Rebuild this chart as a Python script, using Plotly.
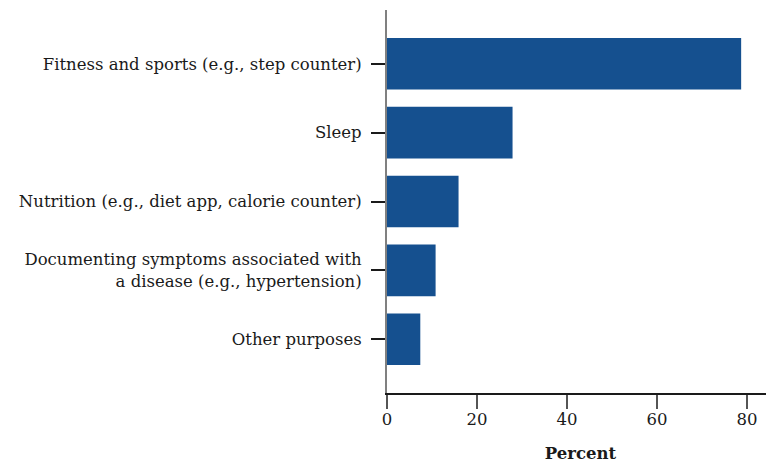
import plotly.graph_objects as go

categories = [
    "Fitness and sports (e.g., step counter)",
    "Sleep",
    "Nutrition (e.g., diet app, calorie counter)",
    "Documenting symptoms associated with<br>a disease (e.g., hypertension)",
    "Other purposes",
]
values = [78.7, 27.9, 15.9, 10.8, 7.4]
x_ticks = [0, 20, 40, 60, 80]

FONT = "DejaVu Serif"

fig = go.Figure(go.Bar(
    x=values, y=categories, orientation="h",
    marker=dict(color="#15508f", line=dict(width=0)),
    width=0.75,
))

# page body has an 8px default margin, so the figure is sized/offset to compensate
fig.update_layout(
    width=766, height=459,
    margin=dict(l=379, r=0, t=2, b=74),
    plot_bgcolor="white", paper_bgcolor="white",
    font=dict(family=FONT, size=16.5, color="#1a1a1a"),
    showlegend=False,
    xaxis=dict(
        range=[0, 86], tickvals=x_ticks, showgrid=False, zeroline=False,
        automargin=False,
        showline=True, linecolor="#1a1a1a", linewidth=1.5,
        ticks="outside", ticklen=14, tickcolor="#555", tickwidth=1.5,
        ticklabelstandoff=-4,
        tickfont=dict(family=FONT, size=16.5),
        title=dict(text="<b>Percent</b>", font=dict(family=FONT, size=16.5), standoff=20),
    ),
    yaxis=dict(
        categoryorder="array", categoryarray=categories,
        range=[4.78, -0.78], showgrid=False, zeroline=False,
        automargin=False,
        showline=True, linecolor="#808080", linewidth=2,
        ticks="outside", ticklen=14, tickcolor="#1a1a1a", tickwidth=1.5,
        ticklabelstandoff=6,
        tickfont=dict(family=FONT, size=16.5),
    ),
)

fig.write_html("out.html")
